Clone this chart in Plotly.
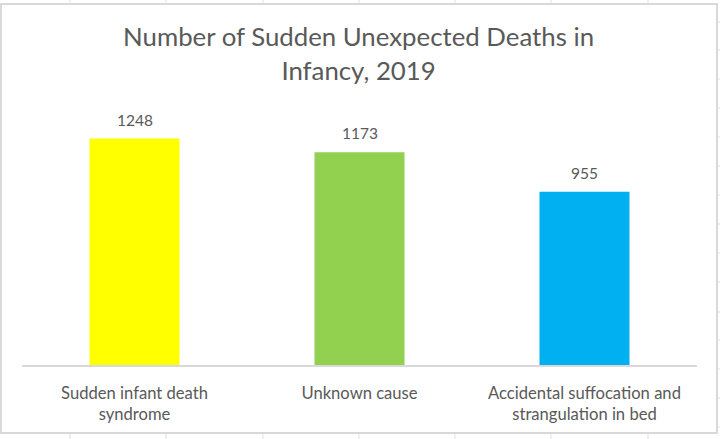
import plotly.graph_objects as go

# ---- data ----
categories = ["Sudden infant death syndrome", "Unknown cause",
              "Accidental suffocation and strangulation in bed"]
tick_labels = ["Sudden infant death<br>syndrome", "Unknown cause",
               "Accidental suffocation and<br>strangulation in bed"]
deaths = [1248, 1173, 955]
bar_colors = ["#FFFF00", "#92D050", "#00B0F0"]
title_text = "Number of Sudden Unexpected Deaths in<br>Infancy, 2019"

W, H = 720, 439
L, R, T, B = 22, 23, 111, 74
FONT = "Lato"
TXT = "#595959"

pw, ph = W - L - R, H - T - B
def px(x):
    return (x - L) / pw
def py(y):
    return (H - B - y) / ph

fig = go.Figure(go.Bar(
    x=categories, y=deaths, marker=dict(color=bar_colors, line=dict(width=0)),
    hoverinfo="x+y"))

for c, v in zip(categories, deaths):
    fig.add_annotation(x=c, y=v, text=str(v), showarrow=False, yanchor="middle",
                       yshift=19, font=dict(family=FONT, size=15.5, color=TXT))

shapes = []
# spreadsheet grid behind the chart object
for gx in [70, 166, 263, 359, 455, 551, 648]:
    shapes.append(dict(type="line", xref="paper", yref="paper", x0=px(gx), x1=px(gx),
                       y0=py(0), y1=py(H), line=dict(color="#E1E1E1", width=1), layer="below"))
for gy in [22, 50, 79, 108, 137, 166, 195, 224, 253, 282, 312, 340, 369, 398, 427]:
    shapes.append(dict(type="line", xref="paper", yref="paper", x0=px(0), x1=px(W),
                       y0=py(gy), y1=py(gy), line=dict(color="#E1E1E1", width=1), layer="below"))
# chart object frame
shapes.append(dict(type="rect", xref="paper", yref="paper", x0=px(1), x1=px(717),
                   y0=py(433), y1=py(4), fillcolor="white",
                   line=dict(color="#D9D9D9", width=2), layer="below"))

fig.update_layout(
    width=W, height=H, margin=dict(l=L, r=R, t=T, b=B),
    paper_bgcolor="white", plot_bgcolor="rgba(0,0,0,0)",
    bargap=0.6, showlegend=False, shapes=shapes,
    title=dict(text=title_text, x=0.4986, xanchor="center", xref="paper",
               y=1 - 46 / H, yanchor="middle", yref="container",
               font=dict(family=FONT, size=25.8, color=TXT)),
    xaxis=dict(tickmode="array", tickvals=categories, ticktext=tick_labels,
               showline=True, linecolor="#D9D9D9", linewidth=1.5, ticks="",
               ticklabelstandoff=12, showgrid=False, zeroline=False,
               tickfont=dict(family=FONT, size=16.6, color=TXT)),
    yaxis=dict(range=[0, 1400], visible=False, showgrid=False, zeroline=False),
    font=dict(family=FONT, color=TXT),
)

fig.write_html("out.html", config={"displayModeBar": False},
               post_script="document.body.style.margin='0';document.body.style.overflow='hidden';")
